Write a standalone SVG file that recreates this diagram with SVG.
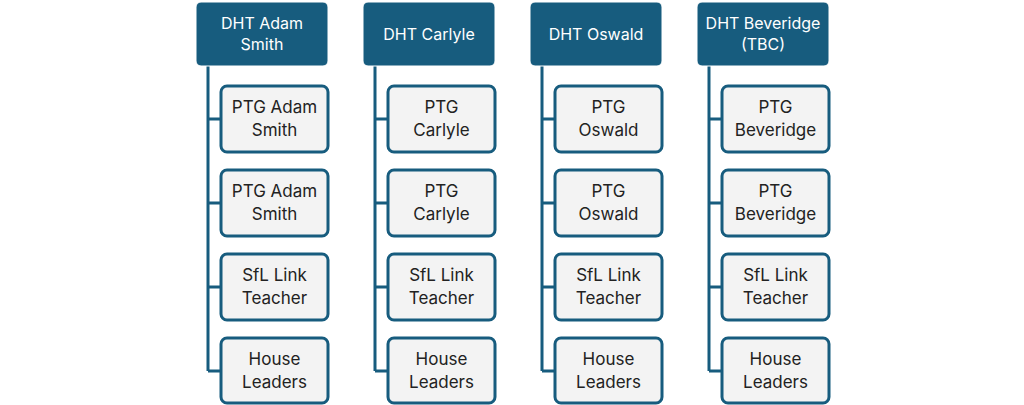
<svg xmlns="http://www.w3.org/2000/svg" width="1024" height="405" viewBox="0 0 1024 405">
<style>
.h rect{fill:#175c7e;stroke:#fff;stroke-width:1}
.h text{fill:#fff;font-family:Inter,"Liberation Sans",sans-serif;font-size:16px;text-anchor:middle}
.c rect{fill:#f3f3f3;stroke:#175c7e;stroke-width:3}
.c text{fill:#222;font-family:Inter,"Liberation Sans",sans-serif;font-size:17px;text-anchor:middle}
#conn path{stroke:#175c7e;stroke-width:3;fill:none}
</style>
<rect width="1024" height="405" fill="#fff"/>
<g id="conn">
<path d="M208 66V371M208 119H221M208 203H221M208 287H221M208 371H221"/>
<path d="M375 66V371M375 119H388M375 203H388M375 287H388M375 371H388"/>
<path d="M542 66V371M542 119H555M542 203H555M542 287H555M542 371H555"/>
<path d="M709 66V371M709 119H722M709 203H722M709 287H722M709 371H722"/>
</g>
<g id="h1" class="h"><rect x="196" y="2" width="132" height="64" rx="5"/><text x="262" y="29">DHT Adam</text><text x="262" y="50">Smith</text></g>
<g id="h2" class="h"><rect x="363" y="2" width="132" height="64" rx="5"/><text x="429" y="40">DHT Carlyle</text></g>
<g id="h3" class="h"><rect x="530" y="2" width="132" height="64" rx="5"/><text x="596" y="40">DHT Oswald</text></g>
<g id="h4" class="h"><rect x="697" y="2" width="132" height="64" rx="5"/><text x="763" y="29">DHT Beveridge</text><text x="763" y="50">(TBC)</text></g>
<g id="a1" class="c"><rect x="221" y="86" width="107" height="66" rx="6"/><text x="274.5" y="113">PTG Adam</text><text x="274.5" y="136">Smith</text></g>
<g id="a2" class="c"><rect x="221" y="170" width="107" height="66" rx="6"/><text x="274.5" y="197">PTG Adam</text><text x="274.5" y="220">Smith</text></g>
<g id="a3" class="c"><rect x="221" y="254" width="107" height="66" rx="6"/><text x="274.5" y="281">SfL Link</text><text x="274.5" y="304">Teacher</text></g>
<g id="a4" class="c"><rect x="221" y="338" width="107" height="65" rx="6"/><text x="274.5" y="365">House</text><text x="274.5" y="388">Leaders</text></g>
<g id="b1" class="c"><rect x="388" y="86" width="107" height="66" rx="6"/><text x="441.5" y="113">PTG</text><text x="441.5" y="136">Carlyle</text></g>
<g id="b2" class="c"><rect x="388" y="170" width="107" height="66" rx="6"/><text x="441.5" y="197">PTG</text><text x="441.5" y="220">Carlyle</text></g>
<g id="b3" class="c"><rect x="388" y="254" width="107" height="66" rx="6"/><text x="441.5" y="281">SfL Link</text><text x="441.5" y="304">Teacher</text></g>
<g id="b4" class="c"><rect x="388" y="338" width="107" height="65" rx="6"/><text x="441.5" y="365">House</text><text x="441.5" y="388">Leaders</text></g>
<g id="c1" class="c"><rect x="555" y="86" width="107" height="66" rx="6"/><text x="608.5" y="113">PTG</text><text x="608.5" y="136">Oswald</text></g>
<g id="c2" class="c"><rect x="555" y="170" width="107" height="66" rx="6"/><text x="608.5" y="197">PTG</text><text x="608.5" y="220">Oswald</text></g>
<g id="c3" class="c"><rect x="555" y="254" width="107" height="66" rx="6"/><text x="608.5" y="281">SfL Link</text><text x="608.5" y="304">Teacher</text></g>
<g id="c4" class="c"><rect x="555" y="338" width="107" height="65" rx="6"/><text x="608.5" y="365">House</text><text x="608.5" y="388">Leaders</text></g>
<g id="d1" class="c"><rect x="722" y="86" width="107" height="66" rx="6"/><text x="775.5" y="113">PTG</text><text x="775.5" y="136">Beveridge</text></g>
<g id="d2" class="c"><rect x="722" y="170" width="107" height="66" rx="6"/><text x="775.5" y="197">PTG</text><text x="775.5" y="220">Beveridge</text></g>
<g id="d3" class="c"><rect x="722" y="254" width="107" height="66" rx="6"/><text x="775.5" y="281">SfL Link</text><text x="775.5" y="304">Teacher</text></g>
<g id="d4" class="c"><rect x="722" y="338" width="107" height="65" rx="6"/><text x="775.5" y="365">House</text><text x="775.5" y="388">Leaders</text></g>
</svg>
